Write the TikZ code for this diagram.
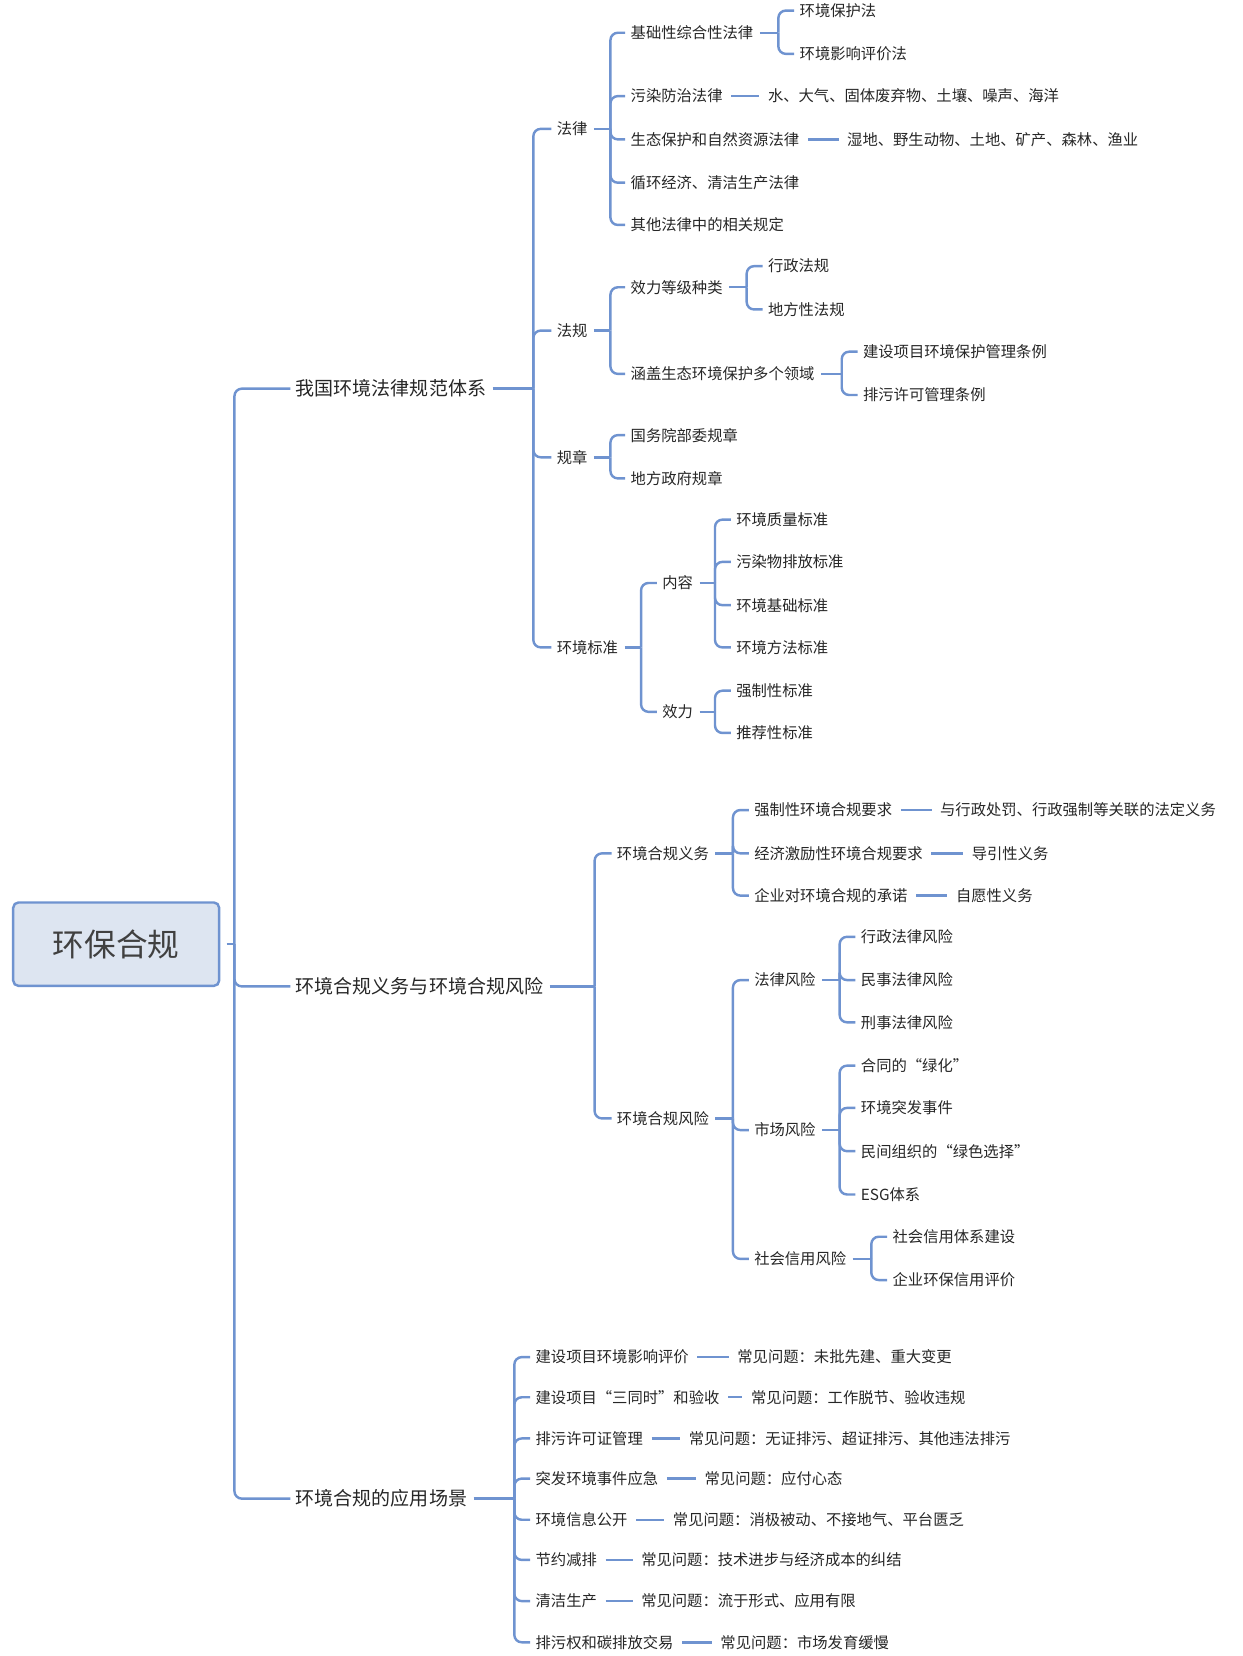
\documentclass[tikz,border=0pt]{standalone}
\usepackage{fontspec}
\setmainfont{Noto Sans CJK SC}
\usetikzlibrary{calc}
\definecolor{linkblue}{HTML}{6F93D0}
\definecolor{rootfill}{HTML}{DDE5F1}
\newcommand\fork[3]{%
  \draw[link] ([xshift=6pt]#1.east) -- (#2,0 |- #1.east);
  \foreach \c in {#3} {\draw[link,rounded corners=7pt] (#2,0 |- #1.east) |- ([xshift=-5pt]\c.west);}}
\newcommand\tie[2]{\draw[link] ([xshift=8pt]#1.east) -- ([xshift=-8pt]#2.west);}
\begin{document}
\begin{tikzpicture}[x=1pt,y=-1pt,
  link/.style={draw=linkblue,line width=2.3pt},
  t/.style={anchor=west,inner sep=0pt,font=\fontsize{14.5}{16}\selectfont,text=black!85},
  big/.style={anchor=west,inner sep=0pt,font=\fontsize{18}{20}\selectfont,text=black!85}]
    \useasboundingbox (0,0) rectangle (1176,1568);

    % Root
    \node[draw=linkblue,fill=rootfill,line width=2.3pt,rounded corners=5pt,minimum width=195pt,minimum height=79pt,
          font=\fontsize{30}{32}\selectfont,text=black!75] (root) at (110,894) {环保合规};

    % First level
    \node[big] (sys) at (280,368) {我国环境法律规范体系};
    \node[big] (duty) at (280,934) {环境合规义务与环境合规风险};
    \node[big] (app) at (280,1419) {环境合规的应用场景};
    \fork{root}{222}{sys,duty,app}

    % Laws and rules
    \node[t] (law) at (527,122) {法律};
    \node[t] (reg) at (527,313) {法规};
    \node[t] (rule) at (527,433) {规章};
    \node[t] (std) at (527,613) {环境标准};
    \fork{sys}{505}{law,reg,rule,std}

    \node[t] (law1) at (597,31) {基础性综合性法律};
    \node[t] (law2) at (597,91) {污染防治法律};
    \node[t] (law3) at (597,132) {生态保护和自然资源法律};
    \node[t] (law4) at (597,173) {循环经济、清洁生产法律};
    \node[t] (law5) at (597,213) {其他法律中的相关规定};
    \fork{law}{578}{law1,law2,law3,law4,law5}
    \node[t] (law1a) at (757,10) {环境保护法};
    \node[t] (law1b) at (757,51) {环境影响评价法};
    \fork{law1}{737}{law1a,law1b}
    \node[t] (law2a) at (727,91) {水、大气、固体废弃物、土壤、噪声、海洋};
    \tie{law2}{law2a}
    \node[t] (law3a) at (802,132) {湿地、野生动物、土地、矿产、森林、渔业};
    \tie{law3}{law3a}

    \node[t] (reg1) at (597,272) {效力等级种类};
    \node[t] (reg2) at (597,354) {涵盖生态环境保护多个领域};
    \fork{reg}{578}{reg1,reg2}
    \node[t] (reg1a) at (727,252) {行政法规};
    \node[t] (reg1b) at (727,293) {地方性法规};
    \fork{reg1}{707}{reg1a,reg1b}
    \node[t] (reg2a) at (817,333) {建设项目环境保护管理条例};
    \node[t] (reg2b) at (817,374) {排污许可管理条例};
    \fork{reg2}{797}{reg2a,reg2b}

    \node[t] (rule1) at (597,412) {国务院部委规章};
    \node[t] (rule2) at (597,453) {地方政府规章};
    \fork{rule}{578}{rule1,rule2}

    \node[t] (std1) at (627,552) {内容};
    \node[t] (std2) at (627,674) {效力};
    \fork{std}{607}{std1,std2}
    \node[t] (std1a) at (697,492) {环境质量标准};
    \node[t] (std1b) at (697,532) {污染物排放标准};
    \node[t] (std1c) at (697,573) {环境基础标准};
    \node[t] (std1d) at (697,613) {环境方法标准};
    \fork{std1}{677}{std1a,std1b,std1c,std1d}
    \node[t] (std2a) at (697,654) {强制性标准};
    \node[t] (std2b) at (697,694) {推荐性标准};
    \fork{std2}{677}{std2a,std2b}

    % Duties and risks
    \node[t] (ob) at (584,808) {环境合规义务};
    \node[t] (risk) at (584,1059) {环境合规风险};
    \fork{duty}{563}{ob,risk}
    \node[t] (ob1) at (714,767) {强制性环境合规要求};
    \node[t] (ob2) at (714,808) {经济激励性环境合规要求};
    \node[t] (ob3) at (714,848) {企业对环境合规的承诺};
    \fork{ob}{694}{ob1,ob2,ob3}
    \node[t] (ob1a) at (890,767) {与行政处罚、行政强制等关联的法定义务};
    \node[t] (ob2a) at (920,808) {导引性义务};
    \node[t] (ob3a) at (905,848) {自愿性义务};
    \tie{ob1}{ob1a}
    \tie{ob2}{ob2a}
    \tie{ob3}{ob3a}

    \node[t] (rk1) at (714,928) {法律风险};
    \node[t] (rk2) at (714,1070) {市场风险};
    \node[t] (rk3) at (714,1192) {社会信用风险};
    \fork{risk}{694}{rk1,rk2,rk3}
    \node[t] (rk1a) at (815,887) {行政法律风险};
    \node[t] (rk1b) at (815,928) {民事法律风险};
    \node[t] (rk1c) at (815,968) {刑事法律风险};
    \fork{rk1}{795}{rk1a,rk1b,rk1c}
    \node[t] (rk2a) at (815,1009) {合同的“绿化”};
    \node[t] (rk2b) at (815,1049) {环境突发事件};
    \node[t] (rk2c) at (815,1090) {民间组织的“绿色选择”};
    \node[t] (rk2d) at (815,1131) {ESG体系};
    \fork{rk2}{795}{rk2a,rk2b,rk2c,rk2d}
    \node[t] (rk3a) at (845,1171) {社会信用体系建设};
    \node[t] (rk3b) at (845,1212) {企业环保信用评价};
    \fork{rk3}{825}{rk3a,rk3b}

    % Application scenes
    \node[t] (sc1) at (507,1285) {建设项目环境影响评价};
    \node[t] (sc2) at (507,1323) {建设项目“三同时”和验收};
    \node[t] (sc3) at (507,1362) {排污许可证管理};
    \node[t] (sc4) at (507,1400) {突发环境事件应急};
    \node[t] (sc5) at (507,1439) {环境信息公开};
    \node[t] (sc6) at (507,1477) {节约减排};
    \node[t] (sc7) at (507,1516) {清洁生产};
    \node[t] (sc8) at (507,1555) {排污权和碳排放交易};
    \fork{app}{487}{sc1,sc2,sc3,sc4,sc5,sc6,sc7,sc8}
    \node[t] (q1) at (698,1285) {常见问题：未批先建、重大变更};
    \node[t] (q2) at (711,1323) {常见问题：工作脱节、验收违规};
    \node[t] (q3) at (652,1362) {常见问题：无证排污、超证排污、其他违法排污};
    \node[t] (q4) at (667,1400) {常见问题：应付心态};
    \node[t] (q5) at (637,1439) {常见问题：消极被动、不接地气、平台匮乏};
    \node[t] (q6) at (607,1477) {常见问题：技术进步与经济成本的纠结};
    \node[t] (q7) at (607,1516) {常见问题：流于形式、应用有限};
    \node[t] (q8) at (682,1555) {常见问题：市场发育缓慢};
    \foreach \i in {1,...,8} {\tie{sc\i}{q\i}}

\end{tikzpicture}
\end{document}
